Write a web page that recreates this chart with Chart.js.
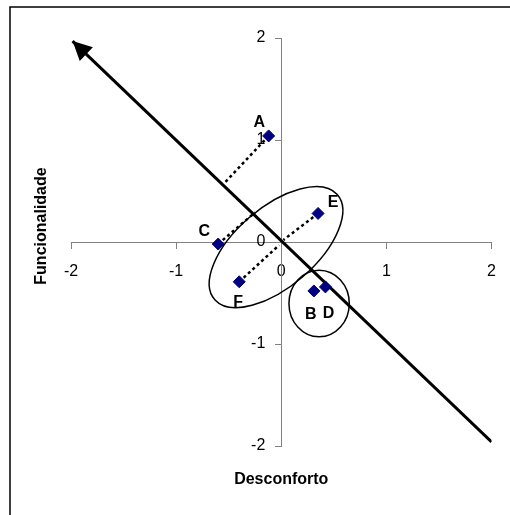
<!DOCTYPE html>
<html><head><meta charset="utf-8">
<script src="https://cdn.jsdelivr.net/npm/chart.js@4/dist/chart.umd.min.js"></script>
<style>html,body{margin:0;padding:0;background:#fff}canvas{display:block}</style>
</head><body>
<canvas id="c" width="510" height="515"></canvas>
<script>
// ---- data ----
const pointNames = ['A', 'B', 'C', 'D', 'E', 'F'];
const desconforto = [-0.12, 0.31, -0.60, 0.42, 0.35, -0.40];
const funcionalidade = [1.04, -0.48, -0.02, -0.44, 0.28, -0.39];
const arrowX = [2.0, -1.985];
const arrowY = [-1.96, 1.97];
const projFrom = ['A', 'C', 'E', 'F'];
const projToX = [-0.53, -0.25, 0.02, -0.02];
const projToY = [0.59, 0.29, 0.02, -0.03];
const tickValues = [-2, -1, 0, 1, 2];
const groupEllipse = { cx: -0.05, cy: -0.05, a: 0.778, b: 0.386, angle: 41.8 };
const groupCircle = { cx: 0.36, cy: -0.603, rx: 0.287, ry: 0.327 };
const xTitle = 'Desconforto';
const yTitle = 'Funcionalidade';

// ---- style ----
const FONT = 'Arial, "Liberation Sans", Helvetica, sans-serif';
const labelOffsets = { A: [-9.5, -13.5], B: [-3, 23.5], C: [-14, -12], D: [3, 27], E: [15, -11], F: [-1, 21] };
const AXIS_GRAY = '#808080';

class CrossLinearScale extends Chart.LinearScale {
  _computeLabelItems(chartArea) {
    const items = super._computeLabelItems(chartArea);
    if (this.axis === 'y') {
      const xs = this.chart.scales.x;
      const axisPx = xs.getPixelForValue(0);
      const shift = (this.options.grid.tickLength || 0) + (this.options.ticks.padding || 0);
      items.forEach(it => {
        if (it.options && it.options.translation) {
          it.options.translation[0] = axisPx - shift;
          it.options.textAlign = 'right';
        }
      });
    }
    return items;
  }
}
CrossLinearScale.id = 'crossLinear';
CrossLinearScale.defaults = Chart.LinearScale.defaults;
Chart.register(CrossLinearScale);

const datasets = [];
datasets.push({
  label: 'pontos',
  data: pointNames.map((n, i) => ({ x: desconforto[i], y: funcionalidade[i] })),
  pointStyle: 'rectRot', pointRadius: 6, pointHoverRadius: 6,
  backgroundColor: '#000080', borderColor: '#000080', borderWidth: 1, showLine: false
});
projFrom.forEach((n, k) => {
  const i = pointNames.indexOf(n);
  datasets.push({
    label: 'proj ' + n,
    data: [{ x: desconforto[i], y: funcionalidade[i] }, { x: projToX[k], y: projToY[k] }],
    showLine: true, borderColor: '#000', borderWidth: 2.5, borderDash: [3, 3],
    pointRadius: 0, pointHoverRadius: 0, fill: false
  });
});
datasets.push({
  label: 'eixo',
  data: arrowX.map((x, i) => ({ x, y: arrowY[i] })),
  showLine: true, borderColor: '#000', borderWidth: 3, borderCapStyle: 'butt',
  pointRadius: 0, pointHoverRadius: 0, fill: false
});
const ARROW_INDEX = datasets.length - 1;

const decorPlugin = {
  id: 'decor',
  beforeDraw(chart) {
    const ctx = chart.ctx;
    ctx.save();
    ctx.fillStyle = '#fff';
    ctx.fillRect(0, 0, chart.width, chart.height);
    ctx.strokeStyle = '#000';
    ctx.lineWidth = 1.5;
    ctx.beginPath();
    ctx.moveTo(10, chart.height + 2);
    ctx.lineTo(10, 7);
    ctx.lineTo(chart.width + 2, 7);
    ctx.stroke();
    ctx.restore();
  },
  afterDatasetsDraw(chart) {
    const ctx = chart.ctx;
    const xs = chart.scales.x, ys = chart.scales.y;
    const ux = xs.getPixelForValue(1) - xs.getPixelForValue(0);
    const uy = ys.getPixelForValue(1) - ys.getPixelForValue(0);
    ctx.save();
    ctx.strokeStyle = '#000';
    ctx.lineWidth = 1.5;
    // group ellipse
    ctx.save();
    ctx.translate(xs.getPixelForValue(groupEllipse.cx), ys.getPixelForValue(groupEllipse.cy));
    ctx.scale(ux, uy);
    ctx.rotate(groupEllipse.angle * Math.PI / 180);
    ctx.beginPath();
    ctx.ellipse(0, 0, groupEllipse.a, groupEllipse.b, 0, 0, Math.PI * 2);
    ctx.restore();
    ctx.stroke();
    // circle
    ctx.beginPath();
    ctx.ellipse(xs.getPixelForValue(groupCircle.cx), ys.getPixelForValue(groupCircle.cy),
      groupCircle.rx * ux, Math.abs(groupCircle.ry * uy), 0, 0, Math.PI * 2);
    ctx.stroke();
    // arrow head
    const pts = chart.getDatasetMeta(ARROW_INDEX).data;
    const p0 = pts[0], p1 = pts[pts.length - 1];
    let dx = p1.x - p0.x, dy = p1.y - p0.y;
    const len = Math.hypot(dx, dy); dx /= len; dy /= len;
    const L = 19, W = 9.5;
    const bx = p1.x - dx * L, by = p1.y - dy * L;
    ctx.fillStyle = '#000';
    ctx.beginPath();
    ctx.moveTo(p1.x, p1.y);
    ctx.lineTo(bx - dy * W, by + dx * W);
    ctx.lineTo(bx + dy * W, by - dx * W);
    ctx.closePath();
    ctx.fill();
    // point labels
    const meta = chart.getDatasetMeta(0);
    ctx.font = 'bold 16px ' + FONT;
    ctx.textAlign = 'center';
    ctx.textBaseline = 'middle';
    meta.data.forEach((el, i) => {
      const n = pointNames[i];
      const o = labelOffsets[n];
      ctx.fillText(n, el.x + o[0], el.y + o[1]);
    });
    // axis titles
    const ca = chart.chartArea;
    ctx.fillText(xTitle, (ca.left + ca.right) / 2, 480);
    ctx.save();
    ctx.translate(42, 226);
    ctx.rotate(-Math.PI / 2);
    ctx.fillText(yTitle, 0, 0);
    ctx.restore();
    ctx.restore();
  }
};

const axisCommon = {
  type: 'crossLinear', min: -2, max: 2,
  grid: { drawOnChartArea: false, drawTicks: true, tickLength: 6, color: AXIS_GRAY, lineWidth: 1 },
  border: { display: true, color: AXIS_GRAY, width: 1 },
  ticks: { color: '#000', font: { family: FONT, size: 16 }, autoSkip: false, maxRotation: 0, callback: v => String(v) }
};

new Chart(document.getElementById('c'), {
  type: 'scatter',
  data: { datasets },
  options: {
    responsive: false,
    animation: false,
    events: [],
    layout: { padding: { left: 71, right: 16, top: 38, bottom: 69 } },
    plugins: { legend: { display: false }, tooltip: { enabled: false }, title: { display: false } },
    scales: {
      x: Object.assign({}, axisCommon, {
        position: { y: 0 },
        afterBuildTicks: s => { s.ticks = tickValues.map(v => ({ value: v })); },
        afterFit: s => { s.height = 0; },
        ticks: Object.assign({}, axisCommon.ticks, { padding: 14 })
      }),
      y: Object.assign({}, axisCommon, {
        position: { x: 0 },
        afterBuildTicks: s => { s.ticks = tickValues.map(v => ({ value: v })); },
        afterFit: s => { s.width = 0; },
        ticks: Object.assign({}, axisCommon.ticks, { padding: 10 })
      })
    }
  },
  plugins: [decorPlugin]
});
</script>
</body></html>
